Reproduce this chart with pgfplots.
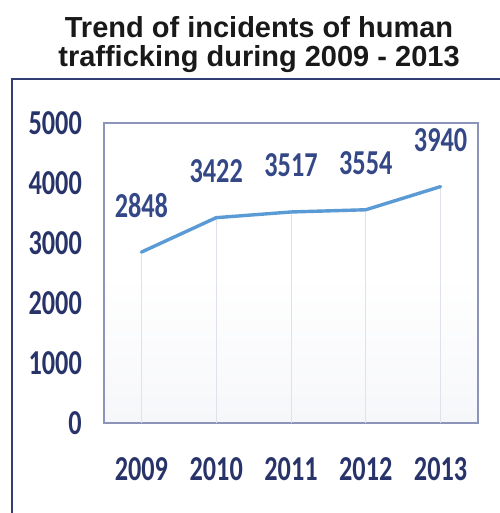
\documentclass[border=0pt]{standalone}
\usepackage{pgfplots}
\pgfplotsset{compat=1.18}
\usepackage{fontspec}
\newfontfamily\titlefont{Liberation Sans}
\newfontfamily\lblfont[FakeStretch=0.75]{Carlito}
\definecolor{framec}{RGB}{50,62,115}
\definecolor{axc}{RGB}{140,148,185}
\definecolor{tickc}{RGB}{40,52,105}
\definecolor{datac}{RGB}{52,72,135}
\definecolor{linec}{RGB}{91,155,213}
\definecolor{dropc}{RGB}{222,226,234}
\definecolor{bgc}{RGB}{246,247,250}
\definecolor{titlec}{RGB}{25,25,25}
\begin{document}
\begin{tikzpicture}
\useasboundingbox (0,0) rectangle (500bp,513bp);
\node[anchor=base, inner sep=0pt, text=titlec] at (259bp,475bp) {\titlefont\bfseries\fontsize{29bp}{33bp}\selectfont Trend of incidents of human};
\node[anchor=base, inner sep=0pt, text=titlec] at (259bp,446bp) {\titlefont\bfseries\fontsize{29bp}{33bp}\selectfont trafficking during 2009 - 2013};
\draw[framec, line width=2.2bp] (12bp,0bp) -- (12bp,434bp) -- (500bp,434bp);
\begin{axis}[
  at={(104bp,90bp)}, anchor=south west,
  scale only axis, width=374bp, height=300bp,
  xmin=-0.5, xmax=4.5, ymin=0, ymax=5000,
  xtick={0,1,2,3,4}, xticklabels={2009,2010,2011,2012,2013},
  ytick={0,1000,2000,3000,4000,5000},
  yticklabels={0,1000,2000,3000,4000,5000},
  major tick length=0pt,
  tick style={draw=none},
  axis line style={draw=axc, line width=1.5bp},
  axis background/.style={shade, top color=white, bottom color=bgc, middle color=white},
  yticklabel style={anchor=east, inner sep=0pt, xshift=-22bp, text=tickc, font=\lblfont\bfseries\fontsize{35bp}{40bp}\selectfont},
  xticklabel style={anchor=base, inner sep=0pt, yshift=-57bp, text=tickc, font=\lblfont\bfseries\fontsize{35bp}{40bp}\selectfont},
  clip=false,
]
\addplot[ycomb, draw=dropc, line width=0.8bp, forget plot] table {
x y
0 2848
1 3422
2 3517
3 3554
4 3940
};
\addplot[draw=linec, line width=3.4bp, line join=round, line cap=round,
  nodes near coords, point meta=explicit symbolic,
  every node near coord/.append style={anchor=base, inner sep=0pt, yshift=35bp, text=datac, font=\lblfont\bfseries\fontsize{35bp}{40bp}\selectfont}]
table[meta=lab] {
x y lab
0 2848 2848
1 3422 3422
2 3517 3517
3 3554 3554
4 3940 3940
};
\end{axis}
\end{tikzpicture}
\end{document}
